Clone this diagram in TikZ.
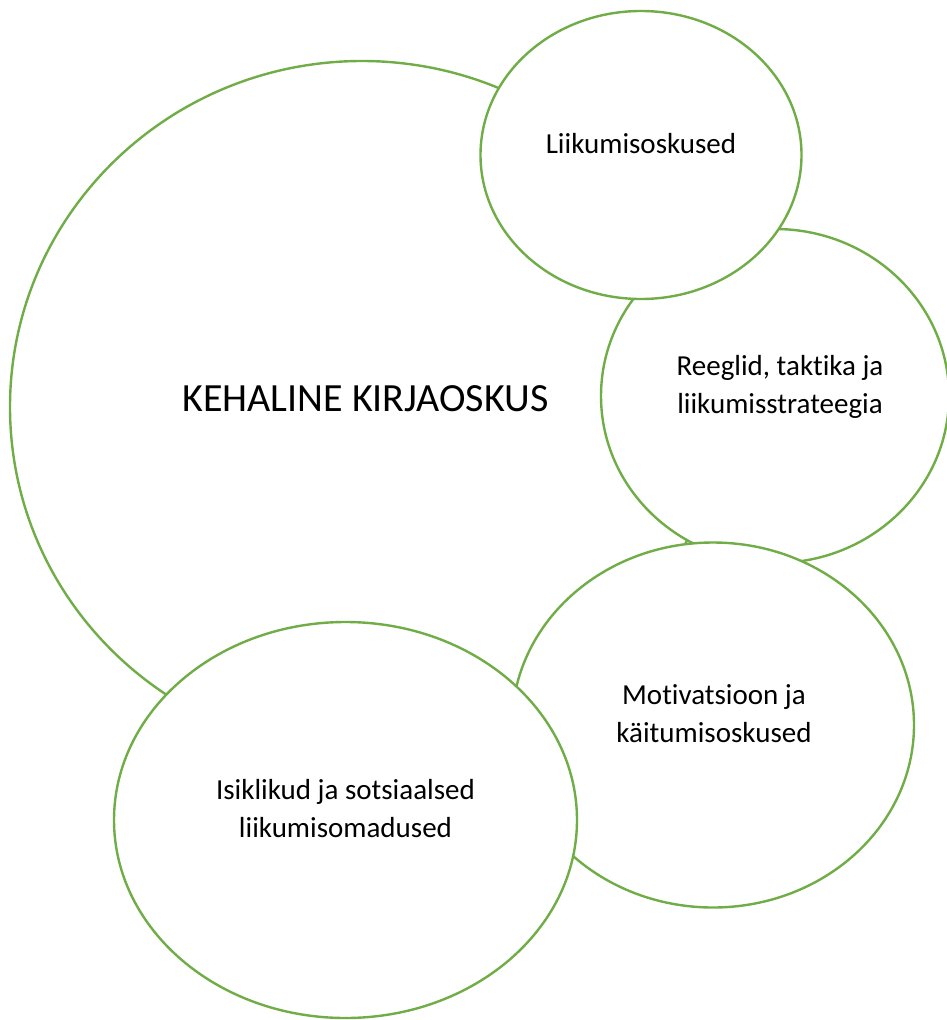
\documentclass[tikz,border=0pt]{standalone}
\usepackage{fontspec}
\setmainfont{Carlito}[Ligatures=NoCommon]
\usetikzlibrary{shapes.geometric}
\definecolor{ringgreen}{RGB}{112,173,71}
\begin{document}
\begin{tikzpicture}[x=1pt,y=-1pt,
        ring/.style={ellipse,draw=ringgreen,line width=2.4pt,fill=white,inner sep=0pt},
        lbl/.style={font=\fontsize{29}{38}\selectfont,align=center,inner sep=0pt},
        biglbl/.style={font=\fontsize{40}{48}\selectfont,inner sep=0pt}]
            \useasboundingbox (0,0) rectangle (947,1020);

            \node[ring,minimum width=704pt,minimum height=692pt] (kirja) at (362,407) {};
            \node[ring,minimum width=348pt,minimum height=334pt] (reeg) at (775,396) {};
            \node[ring,minimum width=321pt,minimum height=288pt] (liik) at (641,155) {};
            \node[ring,minimum width=402pt,minimum height=365pt] (moti) at (713,725) {};
            \node[ring,minimum width=463pt,minimum height=396pt] (isik) at (345.5,820) {};

            \node[biglbl,anchor=base] (kirjatxt) at (365.5,411) {KEHALINE KIRJAOSKUS};
            \node[lbl,anchor=base] (liiktxt) at (641,153) {Liikumisoskused};
            \node[lbl] (reegtxt) at (780,387) {Reeglid, taktika ja\\liikumisstrateegia};
            \node[lbl] (motitxt) at (714,714) {Motivatsioon ja\\käitumisoskused};
            \node[lbl] (isiktxt) at (345.5,808.5) {Isiklikud ja sotsiaalsed\\liikumisomadused};
        \end{tikzpicture}
\end{document}
